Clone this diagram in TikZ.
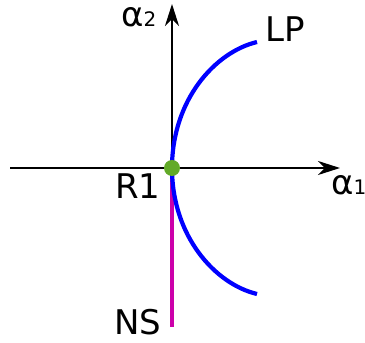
\documentclass[tikz,border=0pt]{standalone}
\usepackage{fontspec}
\setmainfont{DejaVu Sans}
\usetikzlibrary{arrows.meta}
\definecolor{nsmag}{RGB}{204,0,170}
\definecolor{dotgreen}{RGB}{98,170,40}
\newcommand{\sub}[1]{{\fontsize{20}{20}\selectfont #1}}

\begin{document}
\begin{tikzpicture}[
    x=1pt, y=1pt,
    axis/.style={-{Stealth[length=22pt,width=14pt,inset=7pt]}, line width=2.6pt},
    lbl/.style={font=\fontsize{34}{34}\selectfont, inner sep=0pt, anchor=base west},
    branch/.style={line width=4.2pt}
]
    \useasboundingbox (0,0) rectangle (365,343);

    % axes
    \coordinate (xl) at (10,175);
    \coordinate (xr) at (340,175);
    \coordinate (yt) at (172,339);
    \coordinate (o) at (172,175);
    \draw[axis] (xl) -- (xr);
    \draw[axis] (o) -- (yt);

    % branches
    \coordinate (nsend) at (172,16);
    \coordinate (lptop) at (257,301);
    \coordinate (lpbot) at (257,49);
    \draw[branch, nsmag] (o) -- (nsend);
    \draw[branch, blue] (lptop) .. controls (215,291) and (172,243) .. (o)
        .. controls (172,107) and (215,59) .. (lpbot);

    \node[circle, fill=dotgreen, minimum size=16pt, inner sep=0pt] (r1) at (o) {};

    % labels
    \node[lbl] (a2) at (121,316) {α\sub{2}};
    \node[lbl] (a1) at (331,148) {α\sub{1}};
    \node[lbl] (lp) at (265,301) {LP};
    \node[lbl] (r1lbl) at (115,144) {R1};
    \node[lbl] (ns) at (114,8) {NS};
\end{tikzpicture}
\end{document}
